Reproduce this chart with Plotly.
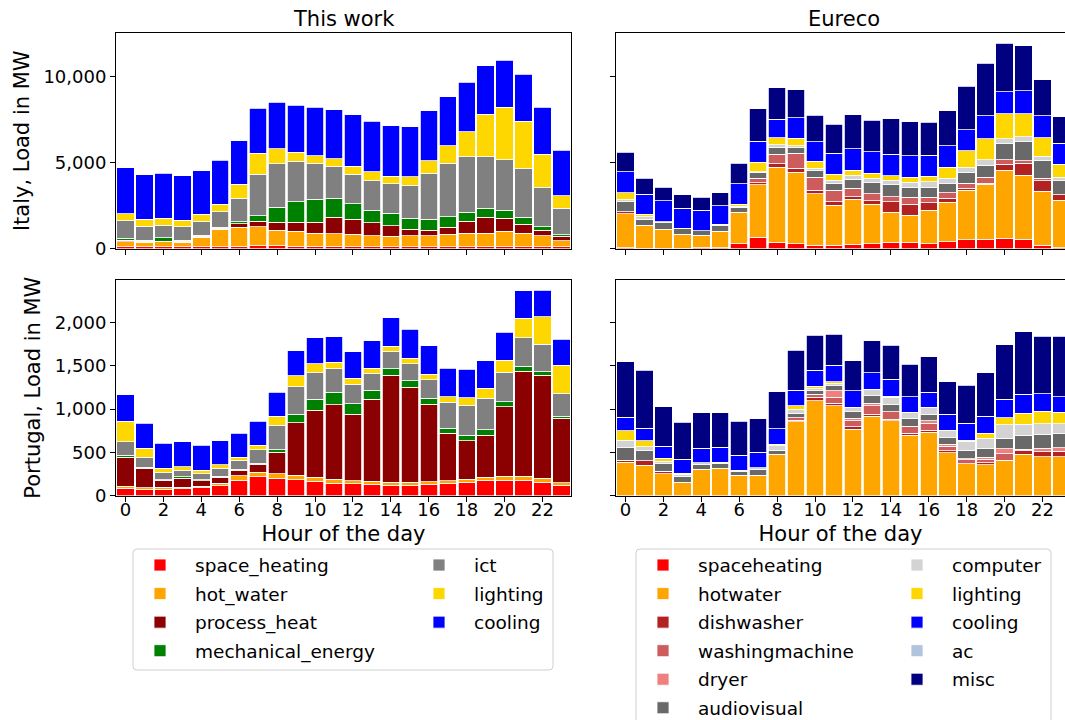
import plotly.graph_objects as go

# Reference canvas is 1065 x 720.  The figure is 20 px taller with a 20 px bottom
# margin so the bottom legend (which runs to the edge) does not shrink the plot area.
W, H_REF, B_PAD = 1065, 720, 20
H = H_REF + B_PAD
hours = list(range(24))
tick_hours = list(range(0, 24, 2))

# ---------------- This work - Italy (MW) ----------------
tw_it_space_heating = [97,100,100,100,100,100,135,155,155,135,135,135,100,100,100,100,100,100,100,100,100,100,100,100]
tw_it_hot_water = [291,250,290,250,545,1010,1090,1105,895,855,740,720,740,640,620,640,640,740,775,795,895,795,640,350]
tw_it_process_heat = [97,80,40,80,75,75,215,330,485,525,660,970,855,755,600,390,330,390,720,915,755,525,310,270]
tw_it_mechanical_energy = [98,60,195,60,60,60,115,310,875,1205,1340,1105,895,740,720,620,640,620,505,525,485,410,215,80]
tw_it_ict = [1029,815,740,780,815,895,1360,2410,2505,2350,2080,1865,1730,1710,1730,1920,2660,3105,3245,3010,2930,2795,2290,1535]
tw_it_lighting = [407,390,390,370,410,445,815,1240,895,525,430,430,465,525,445,505,740,1010,1455,2465,3050,2775,1925,740]
tw_it_cooling = [2680,2580,2620,2580,2525,2545,2545,2600,2680,2740,2835,2835,2990,2930,2930,2910,2895,2855,2875,2815,2740,2740,2740,2640]

# ---------------- This work - Portugal (MW) ----------------
tw_pt_space_heating = [85,73,73,81,92,115,181,219,200,185,169,146,138,135,123,123,135,146,154,177,181,181,158,123]
tw_pt_hot_water = [23,19,23,19,16,31,50,50,54,50,46,46,35,30,31,31,27,27,34,35,42,42,46,27]
tw_pt_process_heat = [338,223,85,100,65,69,61,93,246,607,773,858,769,947,1234,1100,892,546,447,488,804,1215,1184,746]
tw_pt_mechanical_energy = [19,16,4,19,12,12,12,15,31,100,124,146,120,103,77,73,73,62,61,62,58,58,43,23]
tw_pt_ict = [158,111,81,73,69,88,104,154,284,316,307,266,226,200,204,196,211,296,350,365,342,327,315,262]
tw_pt_lighting = [235,104,53,43,42,43,34,50,100,127,104,76,66,54,58,62,66,65,85,111,135,227,319,323]
tw_pt_cooling = [304,289,285,288,285,277,277,277,281,288,300,297,308,319,327,334,327,331,327,320,323,315,308,300]

# ---------------- Eureco - Italy (MW) ----------------
eu_it_spaceheating = [40,20,20,20,40,40,290,640,350,272,194,194,233,291,350,350,291,388,505,544,583,524,194,58]
eu_it_hotwater = [1980,1320,1090,815,740,950,1805,3068,4388,4155,2990,2330,2641,2272,1767,1572,1942,2311,2874,3203,3980,3728,3146,2758]
eu_it_dishwasher = [115,0,0,0,0,0,0,116,194,233,214,194,136,214,601,661,427,214,116,39,330,699,602,310]
eu_it_washingmachine = [0,0,0,0,0,0,0,253,544,893,757,680,485,407,292,388,330,330,311,369,272,156,155,0]
eu_it_dryer = [0]*24
eu_it_audiovisual = [580,350,410,330,250,330,310,350,407,330,369,408,544,641,718,582,563,524,621,699,913,1107,1010,816]
eu_it_computer = [155,155,30,0,0,80,60,40,136,98,136,175,213,272,233,311,330,311,311,311,310,272,252,213]
eu_it_lighting = [370,155,0,0,0,0,95,544,428,427,408,330,311,272,272,291,330,640,951,1223,1437,1340,1088,738]
eu_it_cooling = [1225,1165,1225,1185,1205,1090,1205,1225,1068,1204,1146,1242,1243,1262,1243,1224,1204,1243,1224,1321,1301,1359,1281,1223]
eu_it_ac = [0]*24
eu_it_misc = [1125,930,775,775,740,760,1205,1885,1844,1611,1534,1670,1980,1825,2077,1980,1922,2039,2524,3068,2816,2602,2097,1553]

# ---------------- Eureco - Portugal (MW) ----------------
eu_pt_spaceheating = [0]*24
eu_pt_hotwater = [385,350,254,158,308,315,235,235,477,854,1096,1035,769,919,865,696,731,496,369,358,408,477,450,450]
eu_pt_dishwasher = [23,54,31,0,0,0,0,0,0,19,42,30,27,23,16,23,27,23,0,23,0,42,58,65]
eu_pt_washingmachine = [0,0,0,0,0,0,0,0,0,27,31,73,69,96,88,85,77,54,43,42,77,0,0,0]
eu_pt_dryer = [0,0,0,0,0,0,0,0,0,0,0,70,27,31,0,0,27,23,15,23,54,19,38,39]
eu_pt_audiovisual = [146,115,84,69,57,58,42,69,46,50,50,61,77,85,88,88,76,73,100,100,124,158,162,165]
eu_pt_computer = [84,43,31,19,16,15,19,19,54,50,16,27,50,73,77,73,81,81,104,119,153,131,123,112]
eu_pt_lighting = [112,73,31,12,0,0,0,0,15,35,27,16,0,0,15,0,0,8,11,58,85,127,142,131]
eu_pt_cooling = [158,146,138,165,169,173,169,177,181,181,184,192,189,192,196,177,177,184,196,196,212,219,204,180]
eu_pt_ac = [0]*24
eu_pt_misc = [638,669,458,423,408,396,396,388,427,465,404,358,350,369,392,373,408,373,435,500,626,719,665,696]

tw_names = ["space_heating", "hot_water", "process_heat", "mechanical_energy", "ict", "lighting", "cooling"]
tw_colors = ["#FF0000", "#FFA500", "#8B0000", "#008000", "#808080", "#FFD700", "#0000FF"]
tw_legend = ["legend", "legend", "legend", "legend", "legend2", "legend2", "legend2"]
tw_it = [tw_it_space_heating, tw_it_hot_water, tw_it_process_heat, tw_it_mechanical_energy, tw_it_ict, tw_it_lighting, tw_it_cooling]
tw_pt = [tw_pt_space_heating, tw_pt_hot_water, tw_pt_process_heat, tw_pt_mechanical_energy, tw_pt_ict, tw_pt_lighting, tw_pt_cooling]

eu_names = ["spaceheating", "hotwater", "dishwasher", "washingmachine", "dryer", "audiovisual",
            "computer", "lighting", "cooling", "ac", "misc"]
eu_colors = ["#FF0000", "#FFA500", "#B22222", "#CD5C5C", "#F08080", "#696969",
             "#D3D3D3", "#FFD700", "#0000FF", "#B0C4DE", "#000080"]
eu_legend = ["legend3"] * 6 + ["legend4"] * 5
eu_it = [eu_it_spaceheating, eu_it_hotwater, eu_it_dishwasher, eu_it_washingmachine, eu_it_dryer, eu_it_audiovisual,
         eu_it_computer, eu_it_lighting, eu_it_cooling, eu_it_ac, eu_it_misc]
eu_pt = [eu_pt_spaceheating, eu_pt_hotwater, eu_pt_dishwasher, eu_pt_washingmachine, eu_pt_dryer, eu_pt_audiovisual,
         eu_pt_computer, eu_pt_lighting, eu_pt_cooling, eu_pt_ac, eu_pt_misc]

fig = go.Figure()

def add_panel(names, colors, legends, data, xa, ya, prefix, show):
    for n, c, lg, v in zip(names, colors, legends, data):
        fig.add_trace(go.Bar(
            x=hours, y=v, name=n, xaxis=xa, yaxis=ya,
            marker=dict(color=c, line=dict(color="white", width=0.8)),
            legendgroup=prefix + n, legend=lg, showlegend=show,
        ))

add_panel(tw_names, tw_colors, tw_legend, tw_it, "x", "y", "tw_", True)
add_panel(eu_names, eu_colors, eu_legend, eu_it, "x2", "y2", "eu_", True)
add_panel(tw_names, tw_colors, tw_legend, tw_pt, "x3", "y3", "tw_", False)
add_panel(eu_names, eu_colors, eu_legend, eu_pt, "x4", "y4", "eu_", False)

def px(v):
    return v / W

def py(v):
    # plot area spans the top 720 px of the figure
    return 1 - v / H_REF

FONT = "DejaVu Sans"
TICKF = dict(family=FONT, size=18, color="black")
TITLEF = dict(family=FONT, size=21, color="black")

common = dict(showline=True, linecolor="black", linewidth=1, ticks="outside", ticklen=5,
              tickcolor="black", tickwidth=1, showgrid=False, zeroline=False, automargin=False,
              tickfont=TICKF)

xl = [px(116), px(571)]
xr = [px(616), 1.0]
yt = [py(248.5), py(33)]
yb = [py(495.7), py(279.7)]

fig.update_layout(
    template="none",
    width=W, height=H,
    margin=dict(l=0, r=0, t=0, b=B_PAD, autoexpand=False),
    paper_bgcolor="white", plot_bgcolor="white",
    barmode="stack", bargap=0.08,
    font=dict(family=FONT, color="black"),
    xaxis=dict(domain=xl, anchor="y", range=[-0.5, 23.5], tickvals=tick_hours, showticklabels=False, mirror=True, **common),
    xaxis2=dict(domain=xr, anchor="y2", range=[-0.5, 23.19], tickvals=tick_hours, showticklabels=False, mirror=True, **common),
    xaxis3=dict(domain=xl, anchor="y3", range=[-0.5, 23.5], tickvals=tick_hours, mirror=True, ticklabelstandoff=-7,
                title=dict(text="Hour of the day", font=TITLEF, standoff=7), **common),
    xaxis4=dict(domain=xr, anchor="y4", range=[-0.5, 23.19], tickvals=tick_hours, mirror=True, ticklabelstandoff=-7,
                title=dict(text="Hour of the day", font=TITLEF, standoff=7), **common),
    yaxis=dict(domain=yt, anchor="x", range=[0, 12530], tickvals=[0, 5000, 10000], tickformat=",",
               mirror=True, title=dict(text="Italy, Load in MW", font=TITLEF, standoff=8), **common),
    yaxis2=dict(domain=yt, anchor="x2", range=[0, 12530], tickvals=[0, 5000, 10000], showticklabels=False, **common),
    yaxis3=dict(domain=yb, anchor="x3", range=[0, 2492], tickvals=[0, 500, 1000, 1500, 2000], tickformat=",",
                mirror=True, title=dict(text="Portugal, Load in MW", font=TITLEF, standoff=8), **common),
    yaxis4=dict(domain=yb, anchor="x4", range=[0, 2492], tickvals=[0, 500, 1000, 1500, 2000], showticklabels=False, **common),
)

LEGF = dict(family=FONT, size=18.5, color="black")
def leg(x_text, y_top):
    return dict(x=px(x_text - 70), y=py(y_top), xanchor="left", yanchor="top", orientation="v",
                font=LEGF, bgcolor="rgba(0,0,0,0)", borderwidth=0, itemwidth=60,
                traceorder="grouped", tracegroupgap=1.5)

fig.update_layout(
    legend=leg(195, 546.5),
    legend2=leg(474, 546.5),
    legend3=leg(698, 546.5),
    legend4=leg(952, 546.5),
)

def rounded_rect(x0, y0, x1, y1, r=4):
    rx, ry = r / W, r / H_REF
    X0, X1 = px(x0), px(x1)
    Y0, Y1 = py(y0), py(y1)  # Y0 top, Y1 bottom
    return (f"M {X0+rx} {Y0} L {X1-rx} {Y0} Q {X1} {Y0} {X1} {Y0-ry} "
            f"L {X1} {Y1+ry} Q {X1} {Y1} {X1-rx} {Y1} L {X0+rx} {Y1} Q {X0} {Y1} {X0} {Y1+ry} "
            f"L {X0} {Y0-ry} Q {X0} {Y0} {X0+rx} {Y0} Z")

fig.update_layout(shapes=[
    dict(type="path", xref="paper", yref="paper", path=rounded_rect(133, 549, 553, 670),
         line=dict(color="#D0D0D0", width=1), fillcolor="rgba(0,0,0,0)", layer="below"),
    dict(type="path", xref="paper", yref="paper", path=rounded_rect(636, 549, 1051, 728),
         line=dict(color="#D0D0D0", width=1), fillcolor="rgba(0,0,0,0)", layer="below"),
])

fig.update_layout(annotations=[
    dict(text="This work", x=px(343.5), y=py(19), xref="paper", yref="paper", showarrow=False,
         xanchor="center", yanchor="middle", font=TITLEF),
    dict(text="Eureco", x=px(843.5), y=py(19), xref="paper", yref="paper", showarrow=False,
         xanchor="center", yanchor="middle", font=TITLEF),
])

fig.write_html(
    "out.html",
    config={"displayModeBar": False},
    post_script=(
        "var s=document.createElement('style');"
        "s.textContent='html,body{margin:0;padding:0;overflow:hidden;}';"
        "document.head.appendChild(s);"
    ),
)
